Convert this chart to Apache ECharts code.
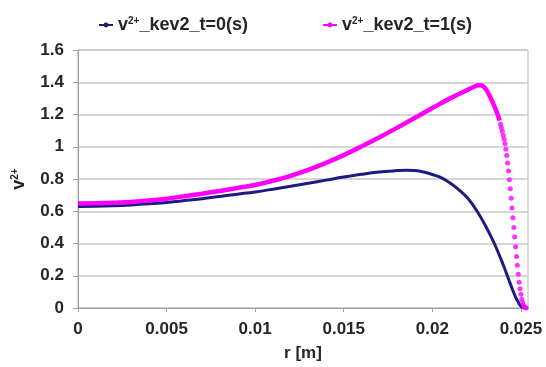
<!DOCTYPE html>
<html>
<head>
<meta charset="utf-8">
<script src="https://cdn.jsdelivr.net/npm/echarts@6/dist/echarts.min.js"></script>
<style>
  html, body { margin: 0; padding: 0; background: #ffffff; }
  #chart { width: 546px; height: 367px; }
</style>
</head>
<body>
<div id="chart"></div>
<script>
// Series names (rendered with superscript via rich text)
const nameT0 = 'v²⁺_kev2_t=0(s)';
const nameT1 = 'v²⁺_kev2_t=1(s)';

// Axis ticks
const xTicks = [0, 0.005, 0.01, 0.015, 0.02, 0.025];
const yTicks = [0, 0.2, 0.4, 0.6, 0.8, 1, 1.2, 1.4, 1.6];

// t = 0 s profile
const rT0 = [0, 0.001, 0.002, 0.003, 0.004, 0.005, 0.006, 0.007, 0.008, 0.009,
  0.010, 0.011, 0.012, 0.013, 0.014, 0.015, 0.016, 0.017, 0.018, 0.0185,
  0.019, 0.0195, 0.020, 0.0205, 0.021, 0.0215, 0.022, 0.0225, 0.023, 0.0235,
  0.024, 0.0243, 0.0245, 0.0247, 0.0249, 0.0250, 0.0251, 0.0252];
const vT0 = [0.630, 0.631, 0.634, 0.639, 0.646, 0.655, 0.666, 0.678, 0.692, 0.706,
  0.720, 0.737, 0.755, 0.774, 0.793, 0.812, 0.829, 0.843, 0.852, 0.855,
  0.852, 0.843, 0.828, 0.808, 0.775, 0.733, 0.680, 0.605, 0.510, 0.400,
  0.268, 0.180, 0.122, 0.068, 0.027, 0.011, 0.003, 0.000];

// t = 1 s profile, smooth part
const rT1 = [0, 0.001, 0.002, 0.003, 0.004, 0.005, 0.006, 0.007, 0.008, 0.009,
  0.010, 0.011, 0.012, 0.013, 0.014, 0.015, 0.016, 0.017, 0.018, 0.019,
  0.020, 0.021, 0.022, 0.0223, 0.0226, 0.0228, 0.0230, 0.0232, 0.0234, 0.0236,
  0.0237, 0.0238];
const vT1 = [0.648, 0.649, 0.652, 0.657, 0.666, 0.678, 0.693, 0.709, 0.726, 0.744,
  0.763, 0.789, 0.820, 0.857, 0.900, 0.948, 1.001, 1.058, 1.117, 1.178,
  1.240, 1.300, 1.353, 1.369, 1.382, 1.380, 1.360, 1.323, 1.276, 1.226,
  1.195, 1.162];

// t = 1 s profile, steep edge (individual points)
const rT1Edge = [0.02385, 0.0239, 0.02395, 0.0240, 0.02405, 0.0241, 0.02415, 0.0242,
  0.02425, 0.0243, 0.02435, 0.0244, 0.02445, 0.0245, 0.02455, 0.0246, 0.02465,
  0.0247, 0.02475, 0.0248, 0.02485, 0.0249, 0.02495, 0.0250, 0.02505, 0.0251,
  0.02515, 0.0252, 0.02525, 0.0253];
const vT1Edge = [1.140, 1.118, 1.096, 1.072, 1.047, 1.018, 0.985, 0.945,
  0.900, 0.850, 0.795, 0.740, 0.680, 0.620, 0.560, 0.500, 0.440,
  0.380, 0.320, 0.265, 0.210, 0.160, 0.120, 0.085, 0.055, 0.032,
  0.016, 0.006, 0.001, 0.000];

const zip = (xs, ys) => xs.map((x, i) => [x, ys[i]]);

const NAVY = '#1c1c80';
const MAGENTA = '#ff00ff';
const FONT = '"Liberation Sans", Arial, sans-serif';
const TEXT = '#262626';

const richText = {
  b: { fontSize: 18, fontWeight: 'bold', fontFamily: FONT, color: TEXT },
  s: { fontSize: 10, fontWeight: 'bold', fontFamily: FONT, color: TEXT, verticalAlign: 'top' }
};
const withSup = (name) => '{b|v}{s|2+}{b|' + name.slice(3) + '}';

const chart = echarts.init(document.getElementById('chart'), null, { renderer: 'canvas' });

chart.setOption({
  animation: false,
  backgroundColor: '#ffffff',
  legend: {
    data: [nameT0, nameT1],
    left: 93,
    top: 11,
    itemWidth: 14,
    itemHeight: 6,
    itemGap: 74,
    formatter: withSup,
    textStyle: { rich: richText }
  },
  grid: {
    left: 78, right: 18, top: 50, bottom: 58.5,
    show: true, borderColor: '#b5b5b5', borderWidth: 1
  },
  xAxis: {
    type: 'value',
    min: 0, max: 0.0254, interval: 0.005,
    name: 'r [m]',
    nameLocation: 'middle',
    nameGap: 37,
    nameTextStyle: { fontSize: 17, fontWeight: 'bold', fontFamily: FONT, color: TEXT },
    axisLine: { show: true, lineStyle: { color: '#a0a0a0', width: 1 } },
    axisTick: { show: true, length: 4, inside: false, customValues: xTicks, lineStyle: { color: '#a0a0a0' } },
    axisLabel: {
      customValues: xTicks,
      margin: 13,
      fontSize: 17, fontWeight: 'bold', fontFamily: FONT, color: TEXT,
      formatter: v => String(v)
    },
    splitLine: { show: false }
  },
  yAxis: {
    type: 'value',
    min: 0, max: 1.6, interval: 0.2,
    name: '{b|v}{s|2+}',
    nameLocation: 'middle',
    nameGap: 50,
    nameTextStyle: { rich: richText },
    axisLine: { show: true, lineStyle: { color: '#a0a0a0', width: 1 } },
    axisTick: { show: true, length: 5, inside: false, lineStyle: { color: '#a0a0a0' } },
    axisLabel: {
      customValues: yTicks,
      margin: 14,
      fontSize: 17, fontWeight: 'bold', fontFamily: FONT, color: TEXT,
      formatter: v => String(Math.round(v * 10) / 10)
    },
    splitLine: { show: true, lineStyle: { color: '#c8c8c8', width: 1.5 } }
  },
  series: [
    {
      name: nameT0,
      type: 'line',
      data: zip(rT0, vT0),
      smooth: 0.4,
      showSymbol: false,
      symbol: 'circle',
      symbolSize: 4,
      itemStyle: { color: NAVY },
      lineStyle: { color: NAVY, width: 3 },
      z: 3
    },
    {
      name: nameT1,
      type: 'line',
      data: zip(rT1, vT1),
      smooth: 0.4,
      showSymbol: false,
      symbol: 'circle',
      symbolSize: 5,
      itemStyle: { color: MAGENTA },
      lineStyle: { color: MAGENTA, width: 4.5 },
      z: 4
    },
    {
      name: nameT1,
      type: 'scatter',
      data: zip(rT1Edge, vT1Edge),
      symbol: 'circle',
      symbolSize: 5,
      itemStyle: { color: MAGENTA },
      z: 4
    }
  ]
});
</script>
</body>
</html>
